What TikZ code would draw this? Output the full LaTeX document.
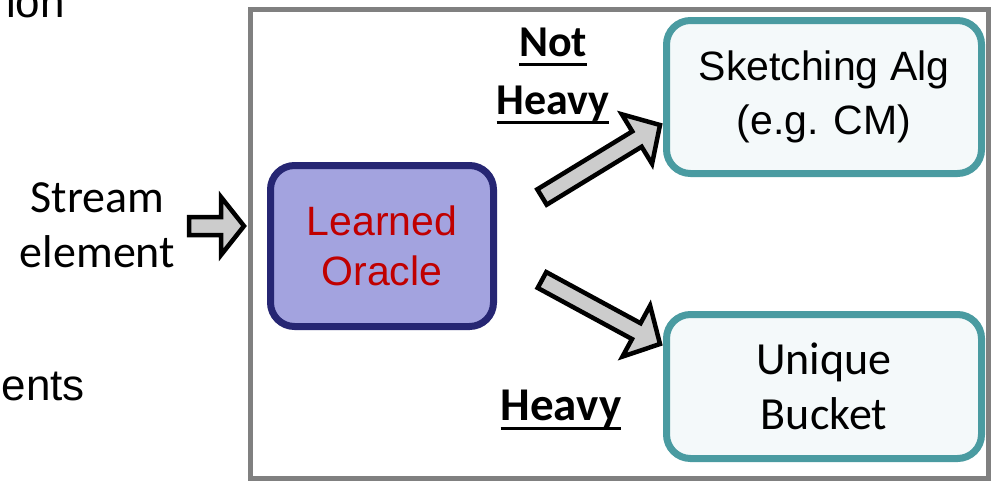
\documentclass[tikz,border=0pt]{standalone}
\usepackage{fontspec}
\setmainfont{Carlito}
\newfontfamily\arialfont{Liberation Sans}
\usetikzlibrary{calc}

\definecolor{framegray}{HTML}{808080}
\definecolor{oraclefill}{HTML}{A3A3DF}
\definecolor{oracleedge}{HTML}{262673}
\definecolor{oracletext}{HTML}{C00000}
\definecolor{tealedge}{HTML}{4A9BA1}
\definecolor{tealfill}{HTML}{F4F9FA}
\definecolor{arrowfill}{HTML}{CCCCCC}

% bold text with a thick rule under it
\newcommand\ulined[1]{\setbox0=\hbox{#1}\leavevmode\rlap{\rule[-9.5pt]{\wd0}{3pt}}\box0}

% block arrow: #1 tail, #2 tip, #3 shaft half width, #4 head half width, #5 head length
\newcommand\blockarrow[5]{%
  \coordinate (ba-base) at ($(#2)!#5!(#1)$);
  \filldraw[fatarrow]
    ($(#1)!#3!90:(#2)$) -- ($(ba-base)!#3!90:(#2)$) -- ($(ba-base)!#4!90:(#2)$)
    -- (#2)
    -- ($(ba-base)!#4!-90:(#2)$) -- ($(ba-base)!#3!-90:(#2)$) -- ($(#1)!#3!-90:(#2)$)
    -- cycle;
}

\tikzset{
  fatarrow/.style={draw=black, fill=arrowfill, line width=4.5pt, miter limit=4},
  oraclebox/.style={draw=oracleedge, fill=oraclefill, line width=7pt, rounded corners=24pt,
    align=center, text=oracletext, inner sep=0pt},
  tealbox/.style={draw=tealedge, fill=tealfill, line width=7pt, rounded corners=24pt,
    align=center, inner sep=0pt},
  plaintext/.style={inner sep=0pt, align=center},
}

\begin{document}
\begin{tikzpicture}[x=1pt, y=-1pt]
  \clip (0,0) rectangle (998,480);
  \fill[white] (0,0) rectangle (998,480);

  % fragments of surrounding text
  \node[inner sep=0pt, anchor=base east, font=\arialfont\fontsize{44}{52}\selectfont] (frag1) at (65,17) {ion};
  \node[inner sep=0pt, anchor=base east, font=\arialfont\fontsize{44}{52}\selectfont] (frag2) at (85,400) {ents};

  % enclosing frame
  \draw[framegray, line width=5pt] (250,9) rectangle (988,478);

  % input label
  \node[plaintext, font=\fontsize{46}{55}\selectfont] (stream) at (97.5,225) {Stream\\element};

  % boxes
  \node[oraclebox, minimum width=223pt, minimum height=161pt,
        font=\arialfont\fontsize{41}{50}\selectfont] (oracle) at (382,246) {Learned\\Oracle};
  \node[tealbox, minimum width=315pt, minimum height=153pt,
        font=\arialfont\fontsize{41}{54}\selectfont] (sketch) at (824,97) {Sketching Alg\\(e.g. CM)};
  \node[tealbox, minimum width=315pt, minimum height=144pt,
        font=\fontsize{46}{55}\selectfont] (unique) at (824,386.5) {Unique\\Bucket};

  % branch labels
  \node[plaintext, font=\bfseries\fontsize{44}{58}\selectfont] (notheavy) at (553,76) {\ulined{Not}\\\ulined{Heavy}};
  \node[inner sep=0pt, anchor=base, font=\bfseries\fontsize{47}{56}\selectfont] (heavy) at (561,420) {\ulined{Heavy}};

  % arrow end points
  \coordinate (in-tail) at (189,226);
  \coordinate (in-tip) at (244,226);
  \coordinate (up-tail) at (542,197);
  \coordinate (up-tip) at (660,125);
  \coordinate (dn-tail) at (542,280);
  \coordinate (dn-tip) at (660,344);

  \blockarrow{in-tail}{in-tip}{9pt}{29pt}{23pt}
  \blockarrow{up-tail}{up-tip}{9pt}{29pt}{27pt}
  \blockarrow{dn-tail}{dn-tip}{9pt}{29pt}{27pt}
\end{tikzpicture}
\end{document}
